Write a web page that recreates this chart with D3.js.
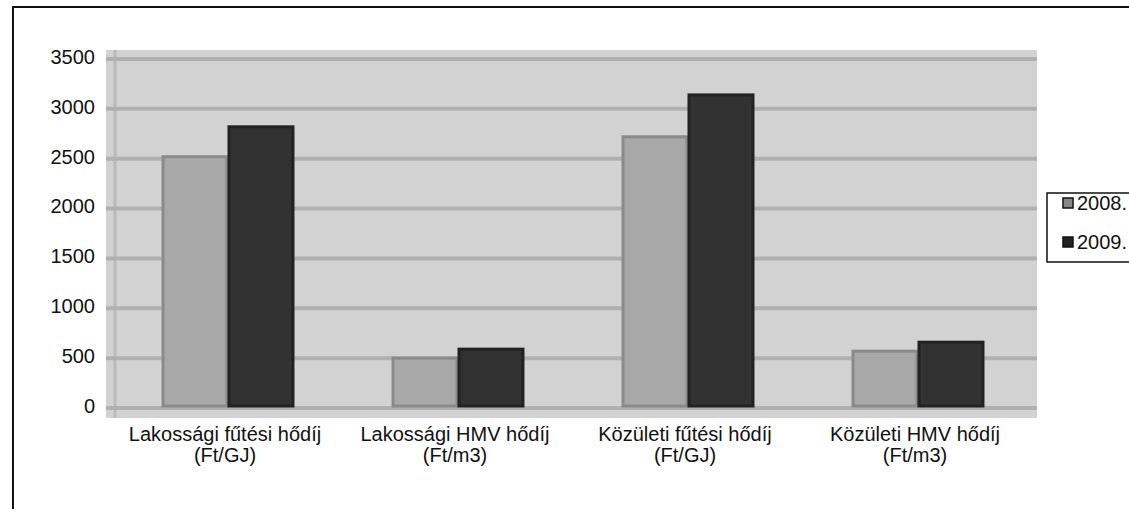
<!DOCTYPE html>
<html>
<head>
<meta charset="utf-8">
<script src="https://cdn.jsdelivr.net/npm/d3@7"></script>
<style>
  body { margin: 0; background: #fff; }
  text { font-family: "Liberation Sans", Arial, sans-serif; fill: #111; }
</style>
</head>
<body>
<div id="chart-container"></div>
<script>
// Data
const categories = [
  ["Lakossági fűtési hődíj", "(Ft/GJ)"],
  ["Lakossági HMV hődíj", "(Ft/m3)"],
  ["Közületi fűtési hődíj", "(Ft/GJ)"],
  ["Közületi HMV hődíj", "(Ft/m3)"]
];
const seriesNames = ["2008.", "2009."];
const values2008 = [2500, 480, 2700, 550];
const values2009 = [2800, 570, 3120, 640];
const yTicks = [0, 500, 1000, 1500, 2000, 2500, 3000, 3500];

const width = 1129, height = 509;
// plot area
const plot = { left: 106, right: 1037, top: 50, bottom: 418 };

const svg = d3.select("#chart-container")
  .append("svg")
  .attr("width", width)
  .attr("height", height);

// outer frame
svg.append("path")
  .attr("d", `M13,${height} L13,7 L${width},7`)
  .attr("fill", "none")
  .attr("stroke", "#111")
  .attr("stroke-width", 2);

// scales
const x0 = d3.scaleBand()
  .domain(d3.range(categories.length))
  .range([113, 1033])
  .paddingInner(0.435)
  .paddingOuter(0.2175);
const x1 = d3.scaleBand()
  .domain([0, 1])
  .range([0, x0.bandwidth()])
  .paddingInner(0.03);
const y = d3.scaleLinear().domain([0, 3500]).range([406, 57]);

// plot background
svg.append("rect")
  .attr("x", plot.left)
  .attr("y", plot.top)
  .attr("width", plot.right - plot.left)
  .attr("height", plot.bottom - plot.top)
  .attr("fill", "#d2d2d2");

// wall edge
svg.append("line")
  .attr("x1", 115).attr("x2", 115)
  .attr("y1", plot.top).attr("y2", plot.bottom)
  .attr("stroke", "#bababa")
  .attr("stroke-width", 3);

// gridlines
svg.append("g")
  .selectAll("line")
  .data(yTicks)
  .join("line")
  .attr("x1", plot.left)
  .attr("x2", plot.right)
  .attr("y1", d => y(d) + 2)
  .attr("y2", d => y(d) + 2)
  .attr("stroke", "#b0b0b0")
  .attr("stroke-width", 4);

// y axis labels
const yAxis = svg.append("g")
  .attr("transform", "translate(99,0)")
  .call(d3.axisLeft(y).tickValues(yTicks).tickFormat(d3.format("d")).tickSize(0).tickPadding(4));
yAxis.select(".domain").remove();
yAxis.attr("font-size", null).attr("font-family", null);
yAxis.selectAll("text")
  .style("font-size", "20px")
  .attr("fill", "#111");

// bars
const fills = ["#a8a8a8", "#323232"];
const strokes = ["#8a8a8a", "#222"];
const groups = svg.append("g")
  .selectAll("g")
  .data(categories.map((c, i) => [values2008[i], values2009[i]]))
  .join("g")
  .attr("transform", (d, i) => `translate(${x0(i)},0)`);

groups.selectAll("rect")
  .data(d => d)
  .join("rect")
  .attr("x", (d, j) => x1(j))
  .attr("y", d => y(d))
  .attr("width", x1.bandwidth())
  .attr("height", d => y(0) - y(d))
  .attr("fill", (d, j) => fills[j])
  .attr("stroke", (d, j) => strokes[j])
  .attr("stroke-width", 3);

// category labels
const catLabels = svg.append("g")
  .selectAll("text")
  .data(categories)
  .join("text")
  .attr("x", (d, i) => x0(i) + x0.bandwidth() / 2 - 3)
  .attr("y", 441)
  .attr("text-anchor", "middle")
  .style("font-size", "20px");
catLabels.selectAll("tspan")
  .data(d => d)
  .join("tspan")
  .attr("x", function () { return d3.select(this.parentNode).attr("x"); })
  .attr("dy", (d, i) => i === 0 ? 0 : 21)
  .text(d => d);

// legend
const legend = svg.append("g");
legend.append("rect")
  .attr("x", 1047)
  .attr("y", 193)
  .attr("width", 100)
  .attr("height", 69)
  .attr("fill", "#fff")
  .attr("stroke", "#111")
  .attr("stroke-width", 1.5);
const legendItems = legend.selectAll("g")
  .data(seriesNames)
  .join("g")
  .attr("transform", (d, i) => `translate(1063,${203 + i * 39})`);
legendItems.append("rect")
  .attr("x", 0).attr("y", -5)
  .attr("width", 10).attr("height", 10)
  .attr("fill", (d, i) => i === 0 ? "#888" : "#222")
  .attr("stroke", "#111")
  .attr("stroke-width", 1.5);
legendItems.append("text")
  .attr("x", 14)
  .attr("y", 7)
  .style("font-size", "20px")
  .text(d => d);
</script>
</body>
</html>
